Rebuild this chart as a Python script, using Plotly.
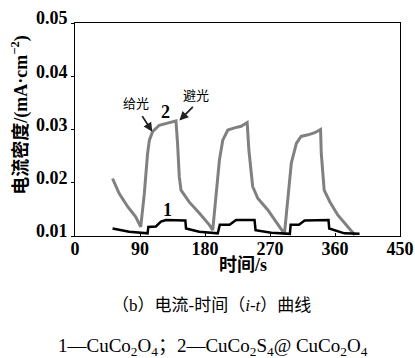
import plotly.graph_objects as go

# Curve 2: CuCo2S4@CuCo2O4 (gray)
t2 = [52, 61, 73, 84, 91, 96, 100.5, 103, 107.4, 116.7, 130.6, 139.8,
      142, 144.4, 146.8, 158, 172, 186, 190.7,
      195.4, 200, 204.6, 211.6, 220.8, 230, 238.4,
      240.7, 246, 253, 267, 281, 290,
      295, 299.5, 306.5, 313, 322.7, 332, 340,
      341, 345, 353, 364, 378, 387.5]
i2 = [0.0208, 0.0180, 0.0155, 0.0136, 0.0117, 0.0180, 0.0255, 0.0280, 0.0296, 0.0308, 0.0313, 0.0316,
      0.0274, 0.0211, 0.0186, 0.0164, 0.0143, 0.0121, 0.0111,
      0.0180, 0.0243, 0.0280, 0.0299, 0.0303, 0.0306, 0.0313,
      0.0262, 0.0193, 0.0171, 0.0149, 0.0121, 0.0104,
      0.0174, 0.0237, 0.0274, 0.0287, 0.0290, 0.0294, 0.0300,
      0.0255, 0.0186, 0.0164, 0.0139, 0.0117, 0.0102]

# Curve 1: CuCo2O4 (black)
t1 = [52, 75, 100.5, 101.5, 112, 119, 126, 152.8, 153.7, 172, 197.7,
      200.5, 214, 223, 248.6, 250, 271.8, 297.5,
      298.6, 310, 318, 351, 352, 373, 394]
i1 = [0.0114, 0.0108, 0.0105, 0.0117, 0.0118, 0.0127, 0.0130, 0.0129, 0.0114, 0.0108, 0.0105,
      0.0121, 0.0121, 0.0130, 0.0130, 0.0111, 0.0106, 0.0104,
      0.0121, 0.0121, 0.0129, 0.0130, 0.0114, 0.0105, 0.0104]

x_ticks = [0, 90, 180, 270, 360, 450]
y_ticks = [0.01, 0.02, 0.03, 0.04, 0.05]
y_tick_labels = ["0.01", "0.02", "0.03", "0.04", "0.05"]

serif = "Liberation Serif, Times New Roman, serif"
cjk = "Liberation Serif, Noto Sans CJK SC, serif"

fig = go.Figure()
fig.add_trace(go.Scatter(x=t2, y=i2, mode="lines",
                         line=dict(color="#808080", width=3), showlegend=False))
fig.add_trace(go.Scatter(x=t1, y=i1, mode="lines",
                         line=dict(color="#000000", width=2.5), showlegend=False))

fig.update_layout(
    width=415, height=358,
    margin=dict(l=75, r=15, t=23, b=122, autoexpand=False),
    paper_bgcolor="white", plot_bgcolor="white",
    font=dict(family=cjk, color="black", size=14),
)
fig.update_xaxes(range=[0, 450], tickvals=x_ticks, ticktext=[f"<b>{v}</b>" for v in x_ticks],
                 showline=True, linecolor="black", linewidth=1, mirror=True,
                 ticks="inside", ticklen=3, tickcolor="black", showgrid=False, zeroline=False,
                 ticklabelstandoff=-4,
                 tickfont=dict(family=serif, size=18, color="black"))
fig.update_yaxes(range=[0.01, 0.05], tickvals=y_ticks, ticktext=[f"<b>{s}</b>" for s in y_tick_labels],
                 showline=True, linecolor="black", linewidth=1, mirror=True,
                 ticks="outside", ticklen=3, tickcolor="black", showgrid=False, zeroline=False,
                 ticklabelshift=-5,
                 tickfont=dict(family=serif, size=18, color="black"))

def A(**kw):
    kw.setdefault("xanchor", "center")
    kw.setdefault("yanchor", "middle")
    return kw

ann = [
    # axis titles
    A(text="<b>时间/s</b>", x=0.517, y=-0.135, xref="paper", yref="paper",
      showarrow=False, font=dict(size=18, family=cjk)),
    A(text="<b>电流密度/(mA·cm<sup>−2</sup>)</b>", x=-0.169, y=0.565, xref="paper", yref="paper",
      textangle=-90, showarrow=False, font=dict(size=18, family=cjk)),
    # caption
    A(text="（b）电流-时间（<i>i</i>-<i>t</i>）曲线", x=0.42, y=-0.324, xref="paper", yref="paper",
      showarrow=False, font=dict(size=17, family=cjk)),
    A(text="1—CuCo<sub>2</sub>O<sub>4</sub>；2—CuCo<sub>2</sub>S<sub>4</sub>@ CuCo<sub>2</sub>O<sub>4</sub>",
      x=0.425, y=-0.521, xref="paper", yref="paper",
      showarrow=False, font=dict(size=19, family=cjk)),
    # curve labels
    A(text="<b>2</b>", x=125, y=0.0333, showarrow=False, font=dict(size=18, family=serif)),
    A(text="<b>1</b>", x=128, y=0.0148, showarrow=False, font=dict(size=18, family=serif)),
    # light on/off labels
    A(text="给光", x=85, y=0.0349, showarrow=False, font=dict(size=13, family=cjk)),
    A(text="避光", x=168, y=0.0363, showarrow=False, font=dict(size=13, family=cjk)),
    # arrows
    A(text="", x=107, y=0.0296, ax=-11, ay=-17, showarrow=True, arrowhead=2,
      arrowsize=1, arrowwidth=1.8, arrowcolor="#222222"),
    A(text="", x=144.5, y=0.0317, ax=15, ay=-15, showarrow=True, arrowhead=2,
      arrowsize=1, arrowwidth=1.8, arrowcolor="#222222"),
]
fig.update_layout(annotations=ann)

fig.write_html("out.html", config={"displayModeBar": False},
               post_script="document.body.style.margin='0';document.body.style.overflow='hidden';")
